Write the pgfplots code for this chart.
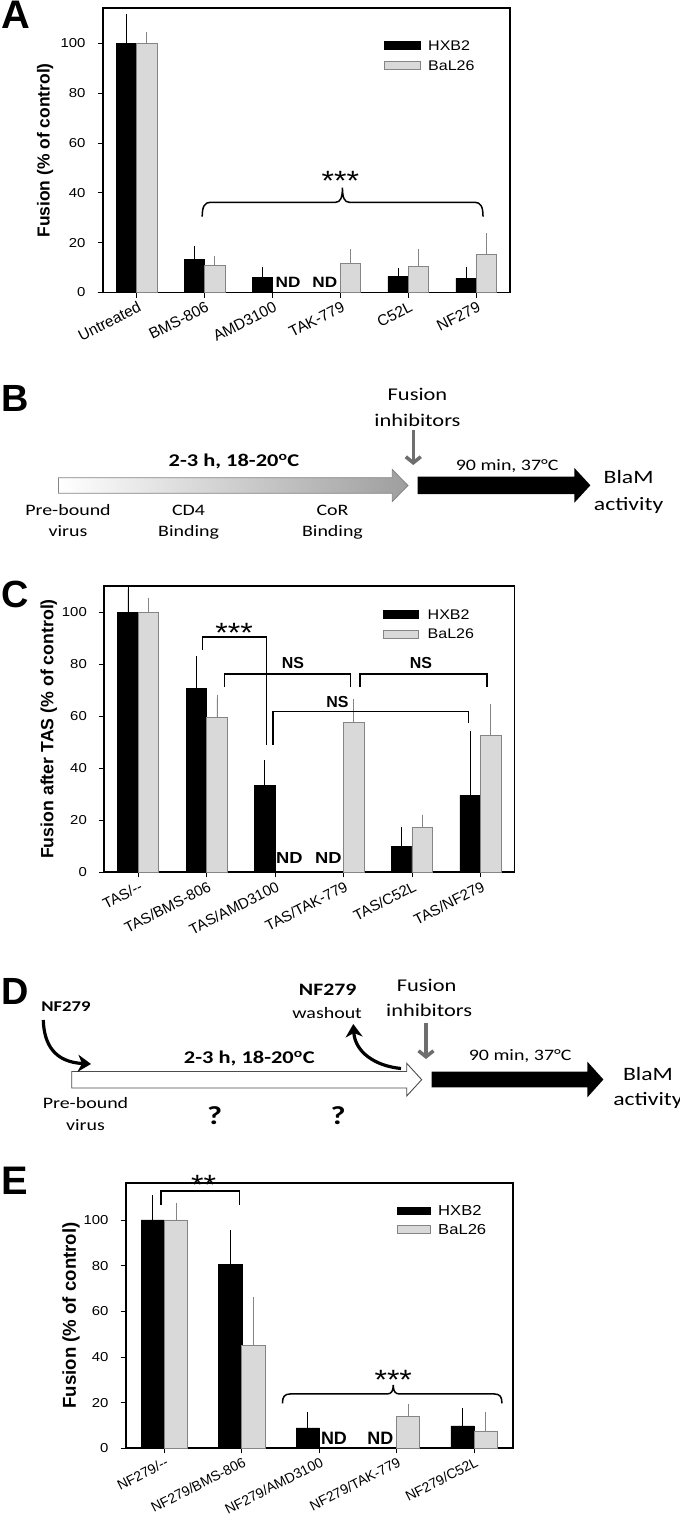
\documentclass[border=0pt]{standalone}
\usepackage{fontspec}
\setmainfont{Liberation Sans}
\newfontfamily\fW[FakeStretch=1.15]{Liberation Sans}
\newfontfamily\fN{Liberation Sans}
\newfontfamily\fC[FakeStretch=1.25]{Carlito}
\usepackage{pgfplots}
\pgfplotsset{compat=1.18}
\usetikzlibrary{arrows.meta}
\definecolor{barg}{HTML}{D9D9D9}
\definecolor{edgeg}{HTML}{858585}
\definecolor{arrg}{HTML}{6E6E6E}
\newcommand{\fs}[1]{\fontsize{#1}{#1}\selectfont}
\newcommand{\ytfont}{\fW\fontsize{13}{13}\selectfont}
\pgfplotsset{
 panel/.style={
  scale only axis, anchor=north west,
  ymin=0, xmin=-0.5,
  axis line style={line width=1.8bp},
  tick align=outside, tick pos=left,
  major tick length=5bp,
  tick style={black, line width=0.8bp},
  ytick={0,20,40,60,80,100},
  clip=false,
  ybar, bar width=0.3,
 },
 hx/.style={fill=black, draw=black, line width=0.5bp, bar shift=-0.15,
   error bars/.cd, y dir=plus, y explicit,
   error bar style={black, line width=0.8bp},
   error mark options={black, line width=0.8bp, mark size=3.5bp}},
 bl/.style={fill=barg, draw=edgeg, line width=0.8bp, bar shift=0.15,
   error bars/.cd, y dir=plus, y explicit,
   error bar style={edgeg, line width=0.8bp},
   error mark options={edgeg, line width=0.8bp, mark size=3.5bp}},
}
\begin{document}
\begin{tikzpicture}
\path[use as bounding box] (0,0) rectangle (680bp,-1522bp);
\begin{scope}[x=1bp,y=-1bp]
% panel letters
\node[anchor=north west, inner sep=0, font=\fN\bfseries\fs{40}] at (1,1) {A};
\node[anchor=north west, inner sep=0, font=\fN\bfseries\fs{38}] at (1,385) {B};
\node[anchor=north west, inner sep=0, font=\fN\bfseries\fs{38}] at (1,581) {C};
\node[anchor=north west, inner sep=0, font=\fN\bfseries\fs{38}] at (1,978) {D};
\node[anchor=north west, inner sep=0, font=\fN\bfseries\fs{40}] at (1,1167) {E};
% legends
\draw[fill=black, line width=0.5bp] (384.5,41.5) rectangle (420.5,49.7);
\draw[fill=barg, draw=edgeg, line width=0.8bp] (384.5,61.6) rectangle (420.5,69.8);
\node[anchor=west, inner sep=0, font=\fW\fs{14}] at (428,45.6) {HXB2};
\node[anchor=west, inner sep=0, font=\fW\fs{14}] at (428,65.7) {BaL26};
\draw[fill=black, line width=0.5bp] (383.6,610.5) rectangle (418.3,618.2);
\draw[fill=barg, draw=edgeg, line width=0.8bp] (383.6,630.2) rectangle (418.3,637.9);
\node[anchor=west, inner sep=0, font=\fW\fs{14}] at (427.5,614.3) {HXB2};
\node[anchor=west, inner sep=0, font=\fW\fs{14}] at (427.5,634) {BaL26};
\draw[fill=black, line width=0.5bp] (397.5,1206.9) rectangle (430.5,1214.6);
\draw[fill=barg, draw=edgeg, line width=0.8bp] (397.5,1225.5) rectangle (430.5,1233.2);
\node[anchor=west, inner sep=0, font=\fW\fs{14.5}] at (438,1210.7) {HXB2};
\node[anchor=west, inner sep=0, font=\fW\fs{14.5}] at (438,1229.3) {BaL26};
% ---------- panel B ----------
\path[draw=edgeg, line width=0.8bp, left color=white, right color=black!38]
 (58.5,477.7) -- (392.3,477.7) -- (392.3,469.5) -- (408,485.5) -- (392.3,501.5) -- (392.3,493.3) -- (58.5,493.3) -- cycle;
\fill (417.7,476.7) -- (574.4,476.7) -- (574.4,468) -- (590.4,485.3) -- (574.4,502.7) -- (574.4,494) -- (417.7,494) -- cycle;
\draw[arrg, line width=3.5bp, -{Straight Barb[length=6bp,width=15bp]}] (413.3,430) -- (413.3,465);
\begin{scope}[every node/.style={anchor=base, inner sep=0}]
\node[font=\fC\fs{18}] at (417.5,400) {Fusion};
\node[font=\fC\fs{18}] at (417.5,426.7) {inhibitors};
\node[font=\fC\bfseries\fs{18}] at (234,466.7) {2-3 h, 18-20\textsuperscript{o}C};
\node[font=\fC\fs{16}] at (507.2,470) {90 min, 37°C};
\node[font=\fC\fs{19}] at (628.6,483.3) {BlaM};
\node[font=\fC\fs{19}] at (628.6,510) {activity};
\node[font=\fC\fs{16}] at (68,515) {Pre-bound};
\node[font=\fC\fs{16}] at (68,536.7) {virus};
\node[font=\fC\fs{16}] at (188.6,515) {CD4};
\node[font=\fC\fs{16}] at (188.6,536.7) {Binding};
\node[font=\fC\fs{16}] at (332.5,515) {CoR};
\node[font=\fC\fs{16}] at (332.5,536.7) {Binding};
\end{scope}
% ---------- panel D ----------
\draw[fill=white, draw=black!70, line width=0.9bp]
 (71.7,1071.5) -- (406.7,1071.5) -- (406.7,1063.3) -- (421.7,1079.7) -- (406.7,1096) -- (406.7,1088) -- (71.7,1088) -- cycle;
\fill (431.7,1071.7) -- (587.4,1071.7) -- (587.4,1061.7) -- (603.4,1079.5) -- (587.4,1097.3) -- (587.4,1087.3) -- (431.7,1087.3) -- cycle;
\draw[arrg, line width=3.5bp, -{Straight Barb[length=6bp,width=15bp]}] (426,1023.3) -- (426,1059);
\draw[line width=3.2bp, -{Stealth[length=13bp,width=17bp,inset=4bp]}] (43.3,1020) .. controls (44,1045) and (55,1062) .. (91,1064);
\draw[line width=3.2bp, -{Stealth[length=13bp,width=17bp,inset=4bp]}] (401,1068.5) .. controls (375,1066) and (355,1052) .. (353.3,1024);
\begin{scope}[every node/.style={anchor=base, inner sep=0}]
\node[font=\fC\bfseries\fs{15}] at (66,1011.7) {NF279};
\node[font=\fC\bfseries\fs{17.5}] at (327.7,995) {NF279};
\node[font=\fC\fs{16}] at (327.2,1018.3) {washout};
\node[font=\fC\fs{18}] at (426.7,991.7) {Fusion};
\node[font=\fC\fs{18}] at (429.2,1016.7) {inhibitors};
\node[font=\fC\bfseries\fs{18}] at (249.3,1063.3) {2-3 h, 18-20\textsuperscript{o}C};
\node[font=\fC\fs{16}] at (520.2,1060) {90 min, 37°C};
\node[font=\fC\fs{19}] at (648,1080) {BlaM};
\node[font=\fC\fs{19}] at (648,1105) {activity};
\node[font=\fC\fs{16}] at (85.5,1108.3) {Pre-bound};
\node[font=\fC\fs{16}] at (85.5,1130) {virus};
\node[font=\fC\bfseries\fs{26}] at (214.6,1124) {?};
\node[font=\fC\bfseries\fs{26}] at (338.1,1124) {?};
\end{scope}
\end{scope}
% ================= Panel A =================
\begin{axis}[panel, at={(102.7bp,-8.3bp)}, width=407.5bp, height=284.2bp,
 xmax=5.5, ymax=114,
 /pgf/number format/assume math mode=true,
 y tick label style={font=\ytfont, inner sep=1bp, xshift=-11bp},
 x tick label style={rotate=27, anchor=north east, inner sep=1bp, yshift=-2bp, font=\fN\fs{15.5}},
 xtick={0,1,2,3,4,5}, xticklabels={Untreated,BMS-806,AMD3100,TAK-779,C52L,NF279},
 ylabel={Fusion (\% of control)},
 every axis y label/.append style={at={(rel axis cs:-0.1416,0.5)}, anchor=center, font=\fN\bfseries\fs{17.5}}]
\addplot[hx] table[x=x,y=y,y error=e]{
x y e
0 100 10.5
1 13.4 3.9
2 6.1 2.7
4 6.5 1.9
5 5.8 3.2
};
\addplot[bl] table[x=x,y=y,y error=e]{
x y e
0 100 3.1
1 10.8 2.6
3 11.6 4.4
4 10.5 5.5
5 15.3 7.1
};
\draw[line width=1.5bp] (axis cs:0.965,30.4) .. controls (axis cs:0.965,34.5) and (axis cs:1.0,36.2) .. (axis cs:1.09,36.2) -- (axis cs:2.93,36.2) .. controls (axis cs:3.0,36.2) and (axis cs:3.03,38) .. (axis cs:3.03,42.1) .. controls (axis cs:3.03,38) and (axis cs:3.06,36.2) .. (axis cs:3.13,36.2) -- (axis cs:4.975,36.2) .. controls (axis cs:5.065,36.2) and (axis cs:5.10,34.5) .. (axis cs:5.10,30.4);
\node[anchor=base, inner sep=0, yshift=-16bp, font=\fW\fs{28}] at (axis cs:3.0,47.5) {***};
\node[inner sep=0, font=\fW\bfseries\fs{15}] at (axis cs:2.23,4.1) {ND};
\node[inner sep=0, font=\fW\bfseries\fs{15}] at (axis cs:2.77,4.1) {ND};
\end{axis}
% ================= Panel C =================
\begin{axis}[panel, at={(104bp,-585.7bp)}, width=410.6bp, height=286.6bp,
 xmax=5.5, ymax=110.2,
 /pgf/number format/assume math mode=true,
 y tick label style={font=\ytfont, inner sep=1bp, xshift=-11bp},
 x tick label style={rotate=27, anchor=north east, inner sep=1bp, yshift=-2bp, font=\fN\fs{15}},
 xtick={0,1,2,3,4,5}, xticklabels={TAS/--,TAS/BMS-806,TAS/AMD3100,TAS/TAK-779,TAS/C52L,TAS/NF279},
 ylabel={Fusion after TAS (\% of control)},
 every axis y label/.append style={at={(rel axis cs:-0.1344,0.5)}, anchor=center, font=\fN\bfseries\fs{17.8}}]
\addplot[hx] table[x=x,y=y,y error=e]{
x y e
0 100 8.8
1 70.8 11.1
2 33.5 8.4
4 9.9 6
5 29.7 23.3
};
\addplot[bl] table[x=x,y=y,y error=e]{
x y e
0 100 4.3
1 59.6 7.3
3 57.7 7.5
4 17.3 3.5
5 52.5 11
};
\draw[line width=1.5bp] (axis cs:0.94,85.5) -- (axis cs:0.94,90.4) -- (axis cs:1.875,90.4) -- (axis cs:1.875,49);
\draw[line width=1.5bp] (axis cs:1.26,71.4) -- (axis cs:1.26,76.2) -- (axis cs:3.10,76.2) -- (axis cs:3.10,71.4);
\draw[line width=1.5bp] (axis cs:3.24,71.4) -- (axis cs:3.24,76.2) -- (axis cs:5.10,76.2) -- (axis cs:5.10,71.4);
\draw[line width=1.5bp] (axis cs:1.97,49) -- (axis cs:1.97,61.8) -- (axis cs:4.83,61.8) -- (axis cs:4.83,57.3);
\node[anchor=base, inner sep=0, yshift=-16bp, font=\fW\fs{28}] at (axis cs:1.40,94.5) {***};
\node[inner sep=0, font=\fN\bfseries\fs{16}] at (axis cs:2.26,80.4) {NS};
\node[inner sep=0, font=\fN\bfseries\fs{16}] at (axis cs:4.13,80.4) {NS};
\node[inner sep=0, font=\fN\bfseries\fs{16}] at (axis cs:2.91,65.6) {NS};
\node[inner sep=0, font=\fW\bfseries\fs{16}] at (axis cs:2.21,5.4) {ND};
\node[inner sep=0, font=\fW\bfseries\fs{16}] at (axis cs:2.78,5.4) {ND};
\end{axis}
% ================= Panel E =================
\begin{axis}[panel, at={(125.7bp,-1182.7bp)}, width=387.1bp, height=265.6bp,
 xmax=4.5, ymax=116.3,
 /pgf/number format/assume math mode=true,
 y tick label style={font=\ytfont, inner sep=1bp, xshift=-11bp},
 x tick label style={rotate=27, anchor=north east, inner sep=1bp, yshift=-2bp, font=\fN\fs{14}},
 xtick={0,1,2,3,4}, xticklabels={NF279/--,NF279/BMS-806,NF279/AMD3100,NF279/TAK-779,NF279/C52L},
 ylabel={Fusion (\% of control)},
 every axis y label/.append style={at={(rel axis cs:-0.141,0.5)}, anchor=center, font=\fN\bfseries\fs{18.7}}]
\addplot[hx] table[x=x,y=y,y error=e]{
x y e
0 100 9.3
1 80.7 13.2
2 9 5.3
4 9.8 6.2
};
\addplot[bl] table[x=x,y=y,y error=e]{
x y e
0 100 5.8
1 44.9 19.8
3 14.1 3.8
4 7.6 6.7
};
\draw[line width=1.5bp] (axis cs:-0.044,106.6) -- (axis cs:-0.044,112.7) -- (axis cs:0.97,112.7) -- (axis cs:0.97,106.6);
\node[anchor=base, inner sep=0, yshift=-16bp, font=\fW\fs{28}] at (axis cs:0.505,118.2) {**};
\draw[line width=1.5bp] (axis cs:1.525,19.7) .. controls (axis cs:1.525,22.5) and (axis cs:1.55,23.8) .. (axis cs:1.625,23.8) -- (axis cs:2.876,23.8) .. controls (axis cs:2.93,23.8) and (axis cs:2.956,25) .. (axis cs:2.956,27.7) .. controls (axis cs:2.956,25) and (axis cs:2.98,23.8) .. (axis cs:3.036,23.8) -- (axis cs:4.26,23.8) .. controls (axis cs:4.335,23.8) and (axis cs:4.36,22.5) .. (axis cs:4.36,19.7);
\node[anchor=base, inner sep=0, yshift=-16bp, font=\fW\fs{28}] at (axis cs:2.956,32.8) {***};
\node[inner sep=0, font=\fN\bfseries\fs{18}] at (axis cs:2.19,4.4) {ND};
\node[inner sep=0, font=\fN\bfseries\fs{18}] at (axis cs:2.79,4.4) {ND};
\end{axis}
\end{tikzpicture}
\end{document}
